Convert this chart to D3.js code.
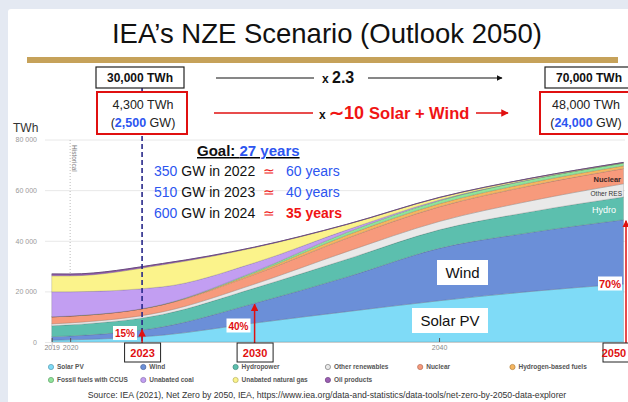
<!DOCTYPE html>
<html>
<head>
<meta charset="utf-8">
<script src="https://cdn.jsdelivr.net/npm/d3@7"></script>
<style>
body { margin:0; background:#e4e9f2; }
svg { display:block; font-family:"Liberation Sans", Arial, sans-serif; }
</style>
</head>
<body>
<svg id="chart" width="628" height="402"></svg>
<script>
// data (TWh)
var years       = [2019, 2020, 2025, 2030, 2035, 2040, 2045, 2050];
var solarPV     = [700, 850, 2700, 7500, 12000, 16300, 20000, 22900];
var wind        = [1420, 1550, 3300, 7800, 13700, 20700, 23300, 25400];
var hydropower  = [4300, 4400, 4900, 6000, 7000, 7300, 8200, 9000];
var otherRenew  = [720, 750, 1000, 1600, 3000, 3300, 4300, 5200];
var nuclear     = [2800, 2700, 2800, 3800, 5300, 5800, 6000, 6000];
var hydrogen    = [0, 0, 50, 600, 1200, 1200, 1200, 1100];
var ccus        = [0, 0, 50, 500, 1100, 1200, 1200, 1100];
var coal        = [9900, 9600, 7000, 3500, 1000, 300, 100, 0];
var gas         = [6300, 6300, 8700, 6000, 2100, 900, 400, 200];
var oil         = [750, 700, 500, 200, 100, 100, 50, 50];

var seriesNames = ["Solar PV", "Wind", "Hydropower", "Other renewables", "Nuclear",
  "Hydrogen-based fuels", "Fossil fuels with CCUS", "Unabated coal", "Unabated natural gas", "Oil products"];
var seriesColors = ["#7fdbf7", "#6b8fd8", "#5cbfae", "#e9e9e9", "#f79a7c",
  "#f6b660", "#8fe49a", "#c29ef2", "#fbf38b", "#9b5fb3"];
var yTicks = [0, 20000, 40000, 60000, 80000];
var xTicks = [2019, 2020, 2040];
var markYears = [2023, 2030, 2050];
var markPct = ["15%", "40%", "70%"];

var svg = d3.select("#chart");
var W = 628, H = 402;

// slide background
svg.append("rect").attr("width", W).attr("height", H).attr("fill", "#e4e9f2");
svg.append("rect").attr("x", 8).attr("y", 9).attr("width", W).attr("height", H)
  .attr("rx", 3).attr("fill", "#fff");

// title + gold rule
svg.append("text").attr("x", 327).attr("y", 43).attr("text-anchor", "middle")
  .attr("font-size", 27.5).attr("fill", "#111").text("IEA\u2019s NZE Scenario (Outlook 2050)");
svg.append("rect").attr("x", 27).attr("y", 57).attr("width", 591).attr("height", 6).attr("fill", "#c6a25a");

var x = d3.scaleLinear().domain([2019, 2050]).range([51.7, 623.5]);
var y = d3.scaleLinear().domain([0, 80000]).range([342, 139.5]);

// grid + y labels
var yAxis = svg.append("g").attr("transform", "translate(45,0)")
  .call(d3.axisLeft(y).tickValues(yTicks).tickSize(-580).tickPadding(8)
    .tickFormat(function(d){ return d3.format(",")(d).replace(/,/g, " "); }));
yAxis.select(".domain").remove();
yAxis.selectAll("line").attr("stroke", "#e8e8e8");
yAxis.selectAll("text").attr("fill", "#999").attr("font-size", 7).attr("font-family", "Liberation Sans");

svg.append("text").attr("x", 13).attr("y", 132).attr("font-size", 12).attr("fill", "#333").text("TWh");

// historical marker
svg.append("line").attr("x1", x(2020)).attr("x2", x(2020)).attr("y1", 140).attr("y2", 342)
  .attr("stroke", "#bbb").attr("stroke-dasharray", "1,2");
svg.append("text").attr("transform", "translate(" + (x(2020) + 2) + ",145) rotate(90)")
  .attr("font-size", 6.5).attr("fill", "#777").text("Historical");

// stacked areas
var keys = d3.range(seriesNames.length);
var cols = [solarPV, wind, hydropower, otherRenew, nuclear, hydrogen, ccus, coal, gas, oil];
var table = years.map(function(yr, i){
  var row = { year: yr };
  keys.forEach(function(k){ row[k] = cols[k][i]; });
  return row;
});
var stacked = d3.stack().keys(keys)(table);
var area = d3.area().curve(d3.curveMonotoneX)
  .x(function(d){ return x(d.data.year); })
  .y0(function(d){ return y(d[0]); })
  .y1(function(d){ return y(d[1]); });

svg.append("g").selectAll("path").data(stacked).enter().append("path")
  .attr("d", area)
  .attr("fill", function(d){ return seriesColors[d.key]; })
  .attr("stroke", "rgba(60,60,60,0.35)").attr("stroke-width", 0.5);

var topLine = d3.line().curve(d3.curveMonotoneX)
  .x(function(d){ return x(d.data.year); })
  .y(function(d){ return y(d[1]); });
svg.append("path").attr("d", topLine(stacked[stacked.length - 1]))
  .attr("fill", "none").attr("stroke", "#6a4a80").attr("stroke-width", 1);

// x axis
var xAxis = svg.append("g").attr("transform", "translate(0,342)")
  .call(d3.axisBottom(x).tickValues(xTicks).tickSize(4).tickFormat(d3.format("d")));
xAxis.select(".domain").attr("stroke", "#ccc");
xAxis.selectAll("line").attr("stroke", "#555").attr("transform", "translate(0,-4)");
xAxis.selectAll("text").attr("fill", "#888").attr("font-size", 7).attr("font-family", "Liberation Sans").attr("dy", "0.2em");

// wind+solar share at a given year (linear between data points)
function windTop(yr){
  var i = d3.bisectLeft(years, yr);
  if (years[i] === yr) return solarPV[i] + wind[i];
  var t = (yr - years[i-1]) / (years[i] - years[i-1]);
  return (solarPV[i-1] + wind[i-1]) * (1 - t) + (solarPV[i] + wind[i]) * t;
}

var defs = svg.append("defs");
function marker(id, color){
  defs.append("marker").attr("id", id).attr("viewBox", "0 0 10 10").attr("refX", 9).attr("refY", 5)
    .attr("markerWidth", 5).attr("markerHeight", 5).attr("orient", "auto-start-reverse")
    .append("path").attr("d", "M0,0L10,5L0,10z").attr("fill", color);
}
marker("arRed", "#e01010");
marker("arBlack", "#111");

// 2023 dashed marker (sits just right of 2023 in the source)
var x2023 = x(2023.9);
svg.append("line").attr("x1", x2023).attr("x2", x2023).attr("y1", 88).attr("y2", 342)
  .attr("stroke", "#28288a").attr("stroke-width", 1.6).attr("stroke-dasharray", "5,3");

// year arrows + labels
var markX = [x2023, x(2030), x(2050) + 2.5];
var pctBox = [[125, 333], [238.5, 325.5], [610, 283.5]];
markYears.forEach(function(yr, i){
  var top = y(windTop(i === 0 ? 2023.9 : yr));
  svg.append("line").attr("x1", markX[i]).attr("x2", markX[i]).attr("y1", 350).attr("y2", top + 1)
    .attr("stroke", "#e01010").attr("stroke-width", 1.5).attr("marker-end", "url(#arRed)");
  var bx = i === 2 ? 603 : markX[i] - 17.5;
  svg.append("rect").attr("x", bx).attr("y", 343).attr("width", 36).attr("height", 19)
    .attr("fill", "#fff").attr("stroke", "#222").attr("stroke-width", 1);
  svg.append("text").attr("x", i === 2 ? 614 : bx + 18).attr("y", 357).attr("text-anchor", "middle")
    .attr("font-size", 11).attr("font-weight", "bold").attr("fill", "#e01010").text(yr);
  var g = svg.append("g").attr("transform", "translate(" + pctBox[i][0] + "," + pctBox[i][1] + ")");
  g.append("rect").attr("x", -12).attr("y", -7).attr("width", 24).attr("height", 14).attr("fill", "#fff");
  g.append("text").attr("y", 4).attr("text-anchor", "middle").attr("font-size", i === 2 ? 11 : 10)
    .attr("font-weight", "bold").attr("fill", "#e01010").text(markPct[i]);
});

// area labels
function labelBox(cx, cy, w, h, txt){
  svg.append("rect").attr("x", cx - w/2).attr("y", cy - h/2).attr("width", w).attr("height", h).attr("fill", "#fff");
  svg.append("text").attr("x", cx).attr("y", cy + 5.5).attr("text-anchor", "middle")
    .attr("font-size", 15).attr("fill", "#111").text(txt);
}
labelBox(462.5, 272.5, 51, 25, "Wind");
labelBox(450, 320.5, 76, 25, "Solar PV");
svg.append("text").attr("x", 621).attr("y", 182).attr("text-anchor", "end").attr("font-size", 7.5)
  .attr("font-weight", "bold").attr("fill", "#3a2626").text("Nuclear");
svg.append("text").attr("x", 622).attr("y", 195.5).attr("text-anchor", "end").attr("font-size", 6.5)
  .attr("fill", "#333").text("Other RES");
svg.append("text").attr("x", 616).attr("y", 213).attr("text-anchor", "end").attr("font-size", 9)
  .attr("fill", "#fff").text("Hydro");

// goal text
var blue = "#2c55f0", red = "#f01414";
var goal = svg.append("text").attr("x", 197).attr("y", 156).attr("font-size", 15).attr("font-weight", "bold")
  .attr("text-decoration", "underline");
goal.append("tspan").attr("fill", "#111").text("Goal: ");
goal.append("tspan").attr("fill", blue).text("27 years");
var goalRows = [["350", "2022", "60 years", false], ["510", "2023", "40 years", false], ["600", "2024", "35 years", true]];
goalRows.forEach(function(r, i){
  var t = svg.append("text").attr("x", 154).attr("y", 176 + i * 21).attr("font-size", 14);
  t.append("tspan").attr("fill", blue).text(r[0]);
  t.append("tspan").attr("fill", "#111").text(" GW in " + r[1]);
  svg.append("text").attr("x", 269).attr("y", 176 + i * 21).attr("text-anchor", "middle").attr("font-size", 14)
    .attr("fill", red).text("\u2243");
  svg.append("text").attr("x", 286).attr("y", 176 + i * 21).attr("font-size", 14)
    .attr("font-weight", r[3] ? "bold" : "normal").attr("fill", r[3] ? red : blue).text(r[2]);
});

// header boxes
function blackBox(bx, txt, anchorX){
  svg.append("rect").attr("x", bx).attr("y", 67).attr("width", 88).attr("height", 21)
    .attr("fill", "#fff").attr("stroke", "#222").attr("stroke-width", 1.2);
  svg.append("text").attr("x", anchorX).attr("y", 82).attr("text-anchor", "middle")
    .attr("font-size", 12).attr("font-weight", "bold").attr("fill", "#111").text(txt);
}
blackBox(96, "30,000 TWh", 140);
blackBox(545, "70,000 TWh", 589);

function redBox(bx, w, cx, twh, gw){
  svg.append("rect").attr("x", bx).attr("y", 92).attr("width", w).attr("height", 42)
    .attr("fill", "#fff").attr("stroke", "#e01010").attr("stroke-width", 2);
  svg.append("text").attr("x", cx).attr("y", 109).attr("text-anchor", "middle").attr("font-size", 12.5)
    .attr("fill", "#222").text(twh);
  var t = svg.append("text").attr("x", cx).attr("y", 127).attr("text-anchor", "middle").attr("font-size", 12.5)
    .attr("fill", "#222");
  t.append("tspan").text("(");
  t.append("tspan").attr("fill", blue).attr("font-weight", "bold").text(gw);
  t.append("tspan").text(" GW)");
}
redBox(97, 90, 143, "4,300 TWh", "2,500");
redBox(540, 92, 586, "48,000 TWh", "24,000");

// x 2.3 arrow
svg.append("line").attr("x1", 216).attr("x2", 314).attr("y1", 78).attr("y2", 78).attr("stroke", "#111").attr("stroke-width", 1.2);
svg.append("line").attr("x1", 368).attr("x2", 502).attr("y1", 78).attr("y2", 78).attr("stroke", "#111").attr("stroke-width", 1.2)
  .attr("marker-end", "url(#arBlack)");
var x23 = svg.append("text").attr("x", 322).attr("y", 83).attr("font-weight", "bold").attr("fill", "#111");
x23.append("tspan").attr("font-size", 12).text("x ");
x23.append("tspan").attr("font-size", 16).text("2.3");

// x ~10 solar + wind arrow
svg.append("line").attr("x1", 214).attr("x2", 313).attr("y1", 113).attr("y2", 113).attr("stroke", "#e01010").attr("stroke-width", 1.5);
svg.append("line").attr("x1", 476).attr("x2", 508).attr("y1", 113).attr("y2", 113).attr("stroke", "#e01010").attr("stroke-width", 1.5)
  .attr("marker-end", "url(#arRed)");
var x10 = svg.append("text").attr("x", 319).attr("y", 119).attr("font-weight", "bold");
x10.append("tspan").attr("font-size", 12).attr("fill", "#111").text("x ");
x10.append("tspan").attr("font-size", 18).attr("fill", red).text("\u223c10 ");
x10.append("tspan").attr("font-size", 16.5).attr("fill", red).text("Solar + Wind");

// legend
seriesNames.forEach(function(name, i){
  var row = i < 6 ? 0 : 1, col = i < 6 ? i : i - 6;
  var g = svg.append("g").attr("transform", "translate(" + (51 + col * 92.3) + "," + (367 + row * 13) + ")");
  g.append("circle").attr("r", 2.6).attr("fill", seriesColors[i])
    .attr("stroke", d3.color(seriesColors[i]).darker(i === 3 ? 1.5 : 0.8)).attr("stroke-width", 0.8);
  g.append("text").attr("x", 6).attr("y", 2.4).attr("font-size", 6.5).attr("font-weight", "bold")
    .attr("fill", "#555").text(name);
});

svg.append("text").attr("x", 327).attr("y", 398).attr("text-anchor", "middle").attr("font-size", 8.7)
  .attr("fill", "#333")
  .text("Source: IEA (2021), Net Zero by 2050, IEA, https://www.iea.org/data-and-statistics/data-tools/net-zero-by-2050-data-explorer");
</script>
</body>
</html>
